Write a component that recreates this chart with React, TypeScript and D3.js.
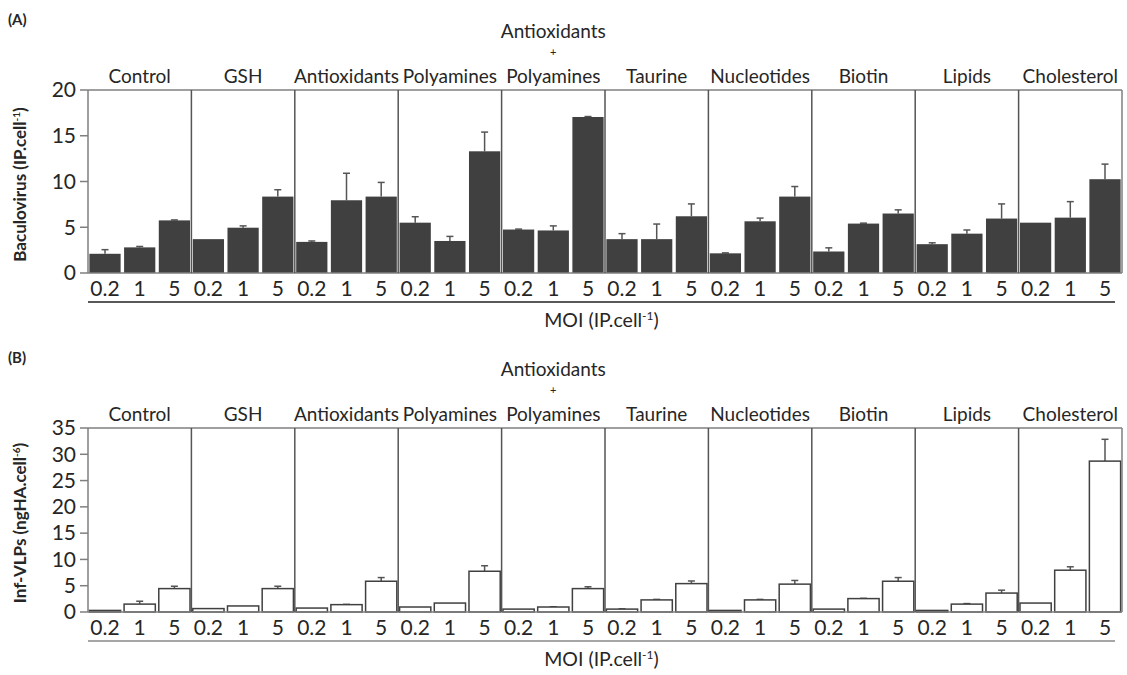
import * as d3 from 'd3';

const groups = ['Control', 'GSH', 'Antioxidants', 'Polyamines', 'Antioxidants + Polyamines', 'Taurine', 'Nucleotides', 'Biotin', 'Lipids', 'Cholesterol'];
const moi = ['0.2', '1', '5'];

// panel A: baculovirus (IP/cell), per group [0.2, 1, 5]
const baculoMean = [
  [2.1, 2.8, 5.75], [3.7, 4.95, 8.35], [3.4, 7.95, 8.35], [5.5, 3.5, 13.3], [4.75, 4.65, 17.05],
  [3.7, 3.7, 6.2], [2.15, 5.65, 8.35], [2.35, 5.4, 6.5], [3.15, 4.3, 5.95], [5.5, 6.05, 10.25],
];
const baculoErr = [
  [0.45, 0.1, 0.05], [0, 0.2, 0.75], [0.1, 2.95, 1.55], [0.65, 0.5, 2.1], [0.05, 0.5, 0.05],
  [0.6, 1.65, 1.35], [0.05, 0.35, 1.1], [0.4, 0.05, 0.4], [0.15, 0.4, 1.6], [0, 1.75, 1.65],
];
const baculoTicks = [0, 5, 10, 15, 20];

// panel B: inf-VLPs (ngHA/10^6 cells)
const vlpMean = [
  [0.3, 1.5, 4.45], [0.65, 1.15, 4.45], [0.75, 1.4, 5.85], [0.95, 1.7, 7.75], [0.55, 0.95, 4.45],
  [0.55, 2.3, 5.4], [0.3, 2.3, 5.3], [0.55, 2.55, 5.85], [0.3, 1.5, 3.6], [1.7, 7.95, 28.7],
];
const vlpErr = [
  [0, 0.55, 0.45], [0, 0, 0.45], [0, 0.05, 0.7], [0, 0, 1.05], [0, 0.05, 0.35],
  [0.05, 0.1, 0.5], [0, 0.1, 0.7], [0, 0.05, 0.7], [0, 0.1, 0.55], [0, 0.65, 4.15],
];
const vlpTicks = [0, 5, 10, 15, 20, 25, 30, 35];

const FONT = 'Lato, "Open Sans", sans-serif';
const INK = '#262626';

type PanelProps = {
  tag: string;
  top: number;
  bottom: number;
  max: number;
  ticks: number[];
  mean: number[][];
  err: number[][];
  filled: boolean;
  yLabel: string;
  yUnit: string;
  yExp: string;
  underline: string;
};

function Panel({ tag, top, bottom, max, ticks, mean, err, filled, yLabel, yUnit, yExp, underline }: PanelProps) {
  const x = d3.scaleBand().domain(groups).range([88, 1122]).padding(0);
  const xi = d3.scaleBand().domain(moi).range([0, x.bandwidth()]).paddingInner(0.1).paddingOuter(0.04);
  const y = d3.scaleLinear().domain([0, max]).range([bottom, top]);
  const left = x.range()[0];
  const right = x.range()[1];
  const midY = (top + bottom) / 2 + 3;

  return (
    <g fontFamily={FONT}>
      <text x={8} y={top - 65} fontSize={15} fontWeight="bold" fill={INK}>{tag}</text>

      {/* y label */}
      <text transform={`translate(26,${midY}) rotate(-90)`} textAnchor="middle" fontSize={17} fontWeight="bold" fill={INK}>
        {yLabel} (<tspan>{yUnit}</tspan><tspan fontSize={10} dy={-6}>{yExp}</tspan><tspan dy={6}>)</tspan>
      </text>

      {/* y ticks */}
      {ticks.map(t => (
        <g key={t}>
          <line x1={left - 8} x2={left} y1={y(t)} y2={y(t)} stroke="#7f7f7f" strokeWidth={1.5} />
          <text x={left - 12} y={y(t)} dy="0.35em" textAnchor="end" fontSize={21} fill={INK}>{t}</text>
        </g>
      ))}

      {/* bars */}
      {groups.map((g, gi) => (
        <g key={g} transform={`translate(${x(g)},0)`}>
          {moi.map((m, mi) => {
            const v = mean[gi][mi];
            const e = err[gi][mi];
            const bx = xi(m)!;
            const cx = bx + xi.bandwidth() / 2;
            return (
              <g key={m}>
                {e > 0 && (
                  <g stroke="#555" strokeWidth={1.5}>
                    <line x1={cx} x2={cx} y1={y(v)} y2={y(v + e)} />
                    <line x1={cx - 3.5} x2={cx + 3.5} y1={y(v + e)} y2={y(v + e)} />
                  </g>
                )}
                <rect x={bx} y={y(v)} width={xi.bandwidth()} height={bottom - y(v)}
                  fill={filled ? '#404040' : '#fff'} stroke={filled ? 'none' : '#404040'} strokeWidth={1.5} />
              </g>
            );
          })}
          {moi.map(m => (
            <text key={m} x={xi(m)! + xi.bandwidth() / 2} y={bottom + 23} textAnchor="middle" fontSize={21} fill={INK}>{m}</text>
          ))}
        </g>
      ))}

      {/* frame and dividers */}
      <line x1={left} x2={right} y1={top} y2={top} stroke="#7f7f7f" strokeWidth={1.5} />
      <line x1={left} x2={right} y1={bottom} y2={bottom} stroke="#7f7f7f" strokeWidth={1.5} />
      <line x1={left} x2={left} y1={top} y2={bottom} stroke="#7f7f7f" strokeWidth={1.5} />
      {groups.map((g, gi) => (
        <line key={g} x1={x(g)! + x.bandwidth()} x2={x(g)! + x.bandwidth()} y1={top} y2={bottom}
          stroke={gi === groups.length - 1 ? '#7f7f7f' : '#555'} strokeWidth={1.5} />
      ))}

      {/* group labels */}
      {groups.map(g => {
        const cx = x(g)! + x.bandwidth() / 2;
        if (g.includes('+')) {
          const [a, b] = g.split(' + ');
          return (
            <g key={g} fontSize={19} fill={INK} textAnchor="middle">
              <text x={cx} y={top - 52}>{a}</text>
              <text x={cx} y={top - 34} fontSize={11}>+</text>
              <text x={cx} y={top - 7}>{b}</text>
            </g>
          );
        }
        return <text key={g} x={cx} y={top - 7} textAnchor="middle" fontSize={19} fill={INK}>{g}</text>;
      })}

      {/* MOI axis */}
      <line x1={left} x2={1115} y1={bottom + 29} y2={bottom + 29} stroke={underline} strokeWidth={2} />
      <text x={(left + 1115) / 2} y={bottom + 54} textAnchor="middle" fontSize={19.5} fill={INK}>
        MOI (IP.cell<tspan fontSize={12} dy={-7}>-1</tspan><tspan dy={7}>)</tspan>
      </text>
    </g>
  );
}

export default function App() {
  return (
    <svg width={1127} height={675} style={{ position: 'absolute', left: 0, top: 0, background: '#fff' }}>
      <rect width={1127} height={675} fill="#fff" />
      <Panel tag="(A)" top={90} bottom={273} max={20} ticks={baculoTicks} mean={baculoMean} err={baculoErr}
        filled yLabel="Baculovirus" yUnit="IP.cell" yExp="-1" underline="#595959" />
      <Panel tag="(B)" top={428} bottom={612} max={35} ticks={vlpTicks} mean={vlpMean} err={vlpErr}
        filled={false} yLabel="Inf-VLPs" yUnit="ngHA.cell" yExp="-6" underline="#a6a6a6" />
    </svg>
  );
}
